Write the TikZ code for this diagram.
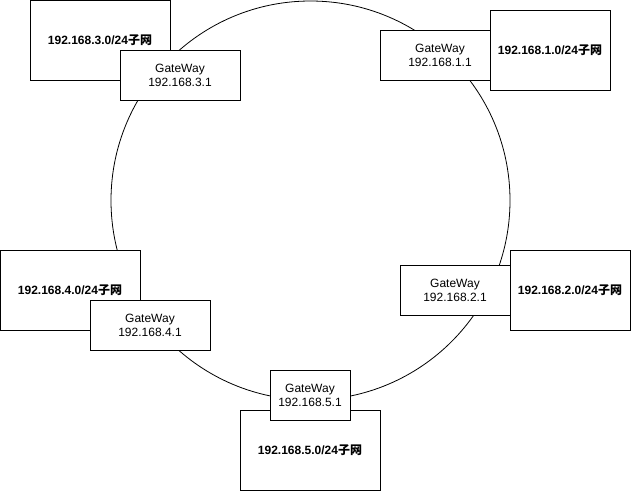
\documentclass[tikz,border=0pt]{standalone}
\usepackage{fontspec}
\setmainfont{Liberation Sans}
\newfontfamily\cjk{Noto Sans CJK SC}
\newcommand{\subnet}[1]{\textbf{192.168.#1.0/24{\cjk 子网}}}
\tikzset{
  subbox/.style={draw, fill=white, line width=0.8pt, inner sep=0pt, align=center, font=\fontsize{12}{14}\selectfont},
  gwbox/.style={draw, fill=white, line width=0.8pt, inner sep=0pt, align=center, font=\fontsize{12}{14}\selectfont},
}
\begin{document}
\begin{tikzpicture}[x=1pt,y=-1pt]
  \useasboundingbox (0,0) rectangle (631,491);
  \draw [line width=0.8pt] (310.5,200.5) circle (199.5);
  % top left
  \node [subbox, minimum width=140, minimum height=80] (sub3) at (100,40) {\subnet{3}};
  \node [gwbox, minimum width=120, minimum height=50] (gw3) at (180,75) {GateWay\\192.168.3.1};
  % top right
  \node [gwbox, minimum width=120, minimum height=50] (gw1) at (440,55) {GateWay\\192.168.1.1};
  \node [subbox, minimum width=120, minimum height=80] (sub1) at (550,50) {\subnet{1}};
  % left
  \node [subbox, minimum width=140, minimum height=80] (sub4) at (70,290) {\subnet{4}};
  \node [gwbox, minimum width=120, minimum height=50] (gw4) at (150,325) {GateWay\\192.168.4.1};
  % right
  \node [gwbox, minimum width=110, minimum height=50] (gw2) at (455,290) {GateWay\\192.168.2.1};
  \node [subbox, minimum width=120, minimum height=80] (sub2) at (570,290) {\subnet{2}};
  % bottom
  \node [subbox, minimum width=140, minimum height=80] (sub5) at (310,450) {\subnet{5}};
  \node [gwbox, minimum width=80, minimum height=50] (gw5) at (310,395) {GateWay\\192.168.5.1};
\end{tikzpicture}
\end{document}
